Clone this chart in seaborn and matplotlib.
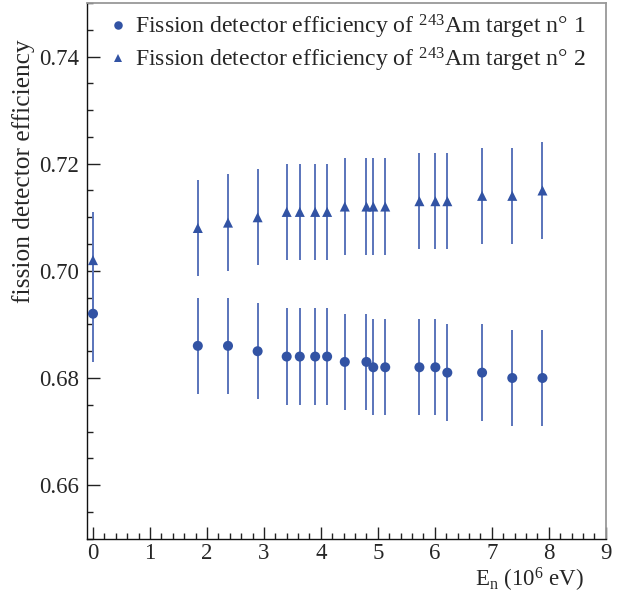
import numpy as np
import pandas as pd
import matplotlib
matplotlib.use("Agg")
import matplotlib.pyplot as plt
import seaborn as sns
from matplotlib.ticker import MultipleLocator

# ---- data ----
energy = [0.0, 1.84, 2.37, 2.89, 3.40, 3.63, 3.90, 4.11, 4.42, 4.80, 4.92, 5.13,
          5.73, 6.01, 6.22, 6.83, 7.36, 7.89]
eff_target1 = [0.692, 0.686, 0.686, 0.685, 0.684, 0.684, 0.684, 0.684, 0.683, 0.683,
               0.682, 0.682, 0.682, 0.682, 0.681, 0.681, 0.680, 0.680]
eff_target2 = [0.702, 0.708, 0.709, 0.710, 0.711, 0.711, 0.711, 0.711, 0.712, 0.712,
               0.712, 0.712, 0.713, 0.713, 0.713, 0.714, 0.714, 0.715]
err_target1 = [0.009] * len(energy)
err_target2 = [0.009] * len(energy)
label1 = "Fission detector efficiency of $^{243}$Am target n\u00b0 1"
label2 = "Fission detector efficiency of $^{243}$Am target n\u00b0 2"
y_ticks = [0.66, 0.68, 0.70, 0.72, 0.74]
x_ticks = list(range(0, 10))

sns.set_theme(style="ticks")
plt.rcParams["font.family"] = ["Liberation Serif", "DejaVu Serif"]
plt.rcParams["mathtext.fontset"] = "custom"
plt.rcParams["mathtext.rm"] = "Liberation Serif"
plt.rcParams["mathtext.it"] = "Liberation Serif:italic"
plt.rcParams["mathtext.bf"] = "Liberation Serif:bold"

FS = 16.5
LEG_FS = 17.1
YLAB_FS = 18.3
marker_col = "#3253a4"
bar_col = "#5a74bb"

df = pd.concat([
    pd.DataFrame({"E": energy, "eff": eff_target1, "err": err_target1, "series": label1}),
    pd.DataFrame({"E": energy, "eff": eff_target2, "err": err_target2, "series": label2}),
], ignore_index=True)

fig = plt.figure(figsize=(6.21, 5.99), dpi=100)
ax = fig.add_axes([87.3 / 621, 1 - 538.7 / 599, (605.7 - 87.3) / 621, (538.7 - 3) / 599])

ax.vlines(df["E"], df["eff"] - df["err"], df["eff"] + df["err"], color=bar_col, lw=1.4, zorder=2)
sns.scatterplot(data=df, x="E", y="eff", style="series", markers={label1: "o", label2: "^"},
                color=marker_col, s=52, edgecolor="none", linewidth=0, ax=ax, zorder=3, legend=True)

ax.set_xlim(-0.1, 9.0)
ax.set_ylim(0.65, 0.75)
ax.set_xticks(x_ticks)
ax.set_yticks(y_ticks)
ax.set_yticklabels([f"{v:.2f}" for v in y_ticks])
ax.xaxis.set_minor_locator(MultipleLocator(0.2))
ax.yaxis.set_minor_locator(MultipleLocator(0.005))
ax.tick_params(axis="both", which="both", direction="in", top=False, right=False,
               labelsize=FS, color="#222222", width=1.0)
ax.tick_params(axis="x", which="major", length=9, pad=3)
ax.tick_params(axis="x", which="minor", length=4.5)
ax.tick_params(axis="y", which="major", length=9, pad=6)
ax.tick_params(axis="y", which="minor", length=4.5)

for side in ["left", "bottom"]:
    ax.spines[side].set_color("#111111")
    ax.spines[side].set_linewidth(1.0)
for side in ["top", "right"]:
    ax.spines[side].set_visible(True)
    ax.spines[side].set_color("#999999")
    ax.spines[side].set_linewidth(1.3)

ax.set_xlabel(r"E$_{\rm n}$ (10$^{6}$ eV)", fontsize=FS, loc="right")
ax.xaxis.set_label_coords((584 - 87.3) / 518.4, -(566 - 538.7) / 535.7)
ax.xaxis.label.set_va("top")
ax.set_ylabel("fission detector efficiency", fontsize=YLAB_FS, loc="top")
ax.yaxis.set_label_coords(-(87.3 - 35) / 518.4, 1 - (39 - 3) / 535.7)

handles, labels = ax.get_legend_handles_labels()
leg = ax.legend(handles, labels, loc="upper left", bbox_to_anchor=(0.043, 0.982),
                frameon=False, fontsize=LEG_FS, handlelength=0.7, handletextpad=0.35,
                labelspacing=0.2, borderpad=0, borderaxespad=0, markerscale=0.85)
for h in leg.legend_handles:
    h.set_color(marker_col)

fig.savefig("out.png", dpi=100)
